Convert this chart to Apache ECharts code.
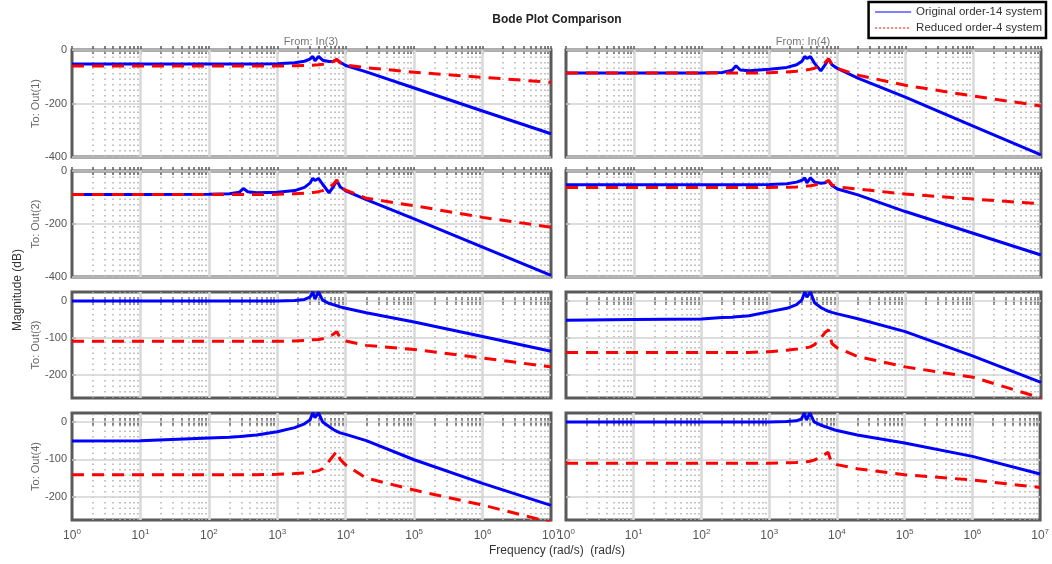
<!DOCTYPE html>
<html><head><meta charset="utf-8">
<script src="https://cdn.jsdelivr.net/npm/echarts@6/dist/echarts.min.js"></script>
<style>html,body{margin:0;padding:0;background:#fff}#main{width:1052px;height:564px}</style>
</head><body><div id="main"></div>
<script>
// ---------------- DATA ----------------
const freq = [1, 10, 100, 200, 280, 320, 370, 500, 1000, 1800, 2500, 3000, 3300, 3550, 4000, 4600, 5700, 6600, 7400, 8300, 10000, 20000, 100000, 1000000, 10000000];

const origOut1In3 = [-52,-52,-52,-52,-52,-52,-52,-52,-51,-48,-42,-34,-24,-40,-24,-38,-43,-42,-36,-46,-58,-82,-142,-228,-313];
const redOut1In3  = [-60,-60,-60,-60,-60,-60,-60,-60,-60,-59,-58,-57,-57,-56,-55,-53,-48,-43,-35,-48,-56,-66,-83,-102,-121];
const origOut1In4 = [-86,-86,-86,-84,-76,-59,-75,-78,-72,-65,-55,-42,-24,-32,-24,-50,-78,-55,-33,-55,-69,-105,-176,-285,-392];
const redOut1In4  = [-86,-86,-86,-86,-86,-86,-86,-86,-85,-82,-79,-77,-75,-74,-72,-68,-57,-47,-33,-55,-69,-94,-132,-172,-209];
const origOut2In3 = [-89,-89,-88,-86,-80,-66,-78,-82,-80,-74,-62,-46,-27,-36,-28,-50,-82,-60,-36,-60,-75,-108,-181,-287,-394];
const redOut2In3  = [-89,-89,-89,-89,-89,-89,-89,-89,-88,-86,-84,-82,-81,-80,-78,-74,-62,-50,-34,-60,-72,-103,-131,-175,-212];
const origOut2In4 = [-52,-52,-52,-52,-52,-52,-52,-52,-51,-48,-42,-35,-26,-45,-26,-42,-46,-44,-37,-55,-68,-90,-153,-235,-317];
const redOut2In4  = [-62,-62,-62,-62,-62,-62,-62,-62,-62,-61,-60,-59,-58,-57,-56,-53,-48,-43,-36,-52,-60,-68,-87,-106,-124];
const origOut3In3 = [0,0,0,0,0,0,0,0,0,1,4,10,24,5,24,2,-7,-10,-13,-16,-20,-32,-57,-96,-136];
const redOut3In3  = [-109,-109,-109,-109,-109,-109,-109,-109,-109,-108,-107,-106,-105,-105,-104,-102,-96,-90,-83,-100,-108,-120,-131,-154,-178];
const origOut3In4 = [-52,-50,-49,-45,-44,-43,-42,-40,-29,-20,-10,3,24,10,24,-5,-18,-24,-28,-31,-35,-48,-83,-149,-220];
const redOut3In4  = [-139,-139,-139,-139,-139,-139,-139,-139,-137,-133,-130,-128,-127,-126,-124,-118,-100,-85,-78,-115,-127,-150,-178,-206,-262];
const origOut4In3 = [-51,-50,-43,-41,-39,-38,-37,-35,-26,-15,-5,5,24,12,24,0,-12,-20,-25,-29,-33,-50,-101,-164,-223];
const redOut4In3  = [-141,-141,-141,-141,-141,-141,-141,-141,-140,-138,-136,-134,-133,-132,-130,-125,-105,-90,-78,-100,-115,-150,-182,-222,-268];
const origOut4In4 = [0,0,0,0,0,0,0,0,0,1,3,8,24,5,24,0,-8,-12,-15,-18,-23,-35,-56,-92,-139];
const redOut4In4  = [-110,-110,-110,-110,-110,-110,-110,-110,-110,-109,-108,-107,-106,-106,-105,-102,-94,-87,-81,-108,-114,-125,-141,-155,-175];

const xTickExps = [0, 1, 2, 3, 4, 5, 6, 7];
const xTickVals = xTickExps.map(e => Math.pow(10, e));
const magTicksRows12 = [0, -200, -400];
const magTicksRows34 = [0, -100, -200];
const magLimitsRows12 = [-400, 0];
const magLimitsRows34 = [-262, 24];

const seriesNames = ['Original order-14 system', 'Reduced order-4 system'];
const inputLabels = ['From: In(3)', 'From: In(4)'];
const outputLabels = ['To: Out(1)', 'To: Out(2)', 'To: Out(3)', 'To: Out(4)'];
const titleText = 'Bode Plot Comparison';
const yAxisTitle = 'Magnitude (dB)';
const xAxisTitle = 'Frequency (rad/s)  (rad/s)';

// ---------------- CHART ----------------
const FONT = '"Liberation Sans", Arial, Helvetica, sans-serif';
const FRAME = '#5a5a5a';
const BLUE = '#0000ff', RED = '#ff0000';
const chart = echarts.init(document.getElementById('main'), null, {renderer: 'canvas'});

const panels = [
  {row: 0, col: 0, orig: origOut1In3, red: redOut1In3},
  {row: 0, col: 1, orig: origOut1In4, red: redOut1In4},
  {row: 1, col: 0, orig: origOut2In3, red: redOut2In3},
  {row: 1, col: 1, orig: origOut2In4, red: redOut2In4},
  {row: 2, col: 0, orig: origOut3In3, red: redOut3In3},
  {row: 2, col: 1, orig: origOut3In4, red: redOut3In4},
  {row: 3, col: 0, orig: origOut4In3, red: redOut4In3},
  {row: 3, col: 1, orig: origOut4In4, red: redOut4In4}
];
const colLeft = [72, 566], colWidth = [479, 475];
const rowTop = [50, 171, 292, 413], rowHeight = [107, 106, 106, 107];
const rowLimits = [magLimitsRows12, magLimitsRows12, magLimitsRows34, magLimitsRows34];
const rowTicks = [magTicksRows12, magTicksRows12, magTicksRows34, magTicksRows34];

const minorVals = [];
for (let e = 0; e < 7; e++) for (let m = 2; m <= 9; m++) minorVals.push(m * Math.pow(10, e));
const majorInner = xTickVals.slice(1, -1);
const allXTicks = xTickVals.concat(minorVals);

const grids = [], xAxes = [], yAxes = [], series = [];
panels.forEach((p, i) => {
  grids.push({
    left: colLeft[p.col], top: rowTop[p.row], width: colWidth[p.col], height: rowHeight[p.row],
    show: true, borderColor: FRAME, borderWidth: 3, backgroundColor: '#fff', z: 0
  });
  const xBase = {
    gridIndex: i, type: 'log', logBase: 10, min: 1, max: 1e7,
    axisLine: {show: false}, splitLine: {show: false},
    axisTick: {show: true, inside: true, length: 4, customValues: allXTicks, lineStyle: {color: FRAME, width: 1.5}}
  };
  xAxes.push(Object.assign({}, xBase, {
    position: 'bottom',
    axisLabel: {
      show: p.row === 3, customValues: xTickVals, margin: 8,
      formatter: v => '{b|10}{s|' + Math.round(Math.log10(v)) + '}',
      rich: {
        b: {fontSize: 12, color: '#555', fontFamily: FONT, lineHeight: 16},
        s: {fontSize: 8, color: '#555', fontFamily: FONT, verticalAlign: 'top', lineHeight: 16, padding: [0, 0, 7, 0]}
      }
    }
  }));
  xAxes.push(Object.assign({}, xBase, {position: 'top', axisLabel: {show: false}}));
  const yBase = {
    gridIndex: i, type: 'value', min: rowLimits[p.row][0], max: rowLimits[p.row][1],
    axisLine: {show: false}, splitLine: {show: false},
    axisTick: {show: true, inside: true, length: 4, customValues: rowTicks[p.row], lineStyle: {color: FRAME, width: 1.5}}
  };
  yAxes.push(Object.assign({}, yBase, {
    position: 'left',
    axisLabel: {show: p.col === 0, customValues: rowTicks[p.row], color: '#555', fontSize: 11, fontFamily: FONT, margin: 5},
    name: p.col === 0 ? outputLabels[p.row] : '',
    nameLocation: 'middle', nameGap: 29, nameRotate: 90,
    nameTextStyle: {color: '#666', fontSize: 11, fontFamily: FONT}
  }));
  yAxes.push(Object.assign({}, yBase, {position: 'right', axisLabel: {show: false}}));

  const gridLines = [];
  minorVals.forEach(v => gridLines.push({xAxis: v, lineStyle: {color: '#b0b0b0', width: 1.5, type: [1.5, 4]}}));
  majorInner.forEach(v => gridLines.push({xAxis: v, lineStyle: {color: '#d8d8d8', width: 2.5, type: 'solid'}}));
  rowTicks[p.row].forEach(v => gridLines.push({yAxis: v, lineStyle: {color: '#d2d2d2', width: 1.5, type: 'solid'}}));
  series.push({
    type: 'line', xAxisIndex: 2 * i, yAxisIndex: 2 * i, data: [], silent: true, z: 1,
    markLine: {silent: true, z: 1, symbol: ['none', 'none'], label: {show: false}, animation: false, data: gridLines}
  });
  series.push({
    type: 'line', name: seriesNames[0], xAxisIndex: 2 * i, yAxisIndex: 2 * i, z: 10,
    data: freq.map((f, k) => [f, p.orig[k]]),
    symbol: 'none', showSymbol: false, lineStyle: {color: BLUE, width: 3}, itemStyle: {color: BLUE}
  });
  series.push({
    type: 'line', name: seriesNames[1], xAxisIndex: 2 * i, yAxisIndex: 2 * i, z: 11,
    data: freq.map((f, k) => [f, p.red[k]]),
    symbol: 'none', showSymbol: false, lineStyle: {color: RED, width: 3, type: [12, 8]}, itemStyle: {color: RED}
  });
});

chart.setOption({
  animation: false,
  backgroundColor: '#fff',
  grid: grids, xAxis: xAxes, yAxis: yAxes, series: series,
  legend: {
    orient: 'vertical', right: 6, top: 2, itemWidth: 36, itemHeight: 8, itemGap: 4,
    padding: [4, 4, 4, 6], borderColor: '#000', borderWidth: 2.5, backgroundColor: '#fff',
    textStyle: {fontSize: 11.5, color: '#333', fontFamily: FONT},
    itemStyle: {opacity: 0},
    data: [
      {name: seriesNames[0], lineStyle: {color: BLUE, width: 1, type: 'solid'}},
      {name: seriesNames[1], lineStyle: {color: RED, width: 1, type: [2, 2]}}
    ]
  },
  graphic: [
    {type: 'text', x: 557, y: 20, style: {text: titleText, textAlign: 'center', textVerticalAlign: 'middle', font: 'bold 12px ' + FONT, fill: '#222'}},
    {type: 'text', x: 311, y: 42, style: {text: inputLabels[0], textAlign: 'center', textVerticalAlign: 'middle', font: '11px ' + FONT, fill: '#777'}},
    {type: 'text', x: 803, y: 42, style: {text: inputLabels[1], textAlign: 'center', textVerticalAlign: 'middle', font: '11px ' + FONT, fill: '#777'}},
    {type: 'text', x: 18, y: 290, rotation: Math.PI / 2, style: {text: yAxisTitle, textAlign: 'center', textVerticalAlign: 'middle', font: '12px ' + FONT, fill: '#333'}},
    {type: 'text', x: 557, y: 551, style: {text: xAxisTitle, textAlign: 'center', textVerticalAlign: 'middle', font: '12px ' + FONT, fill: '#333'}}
  ]
});
</script></body></html>
